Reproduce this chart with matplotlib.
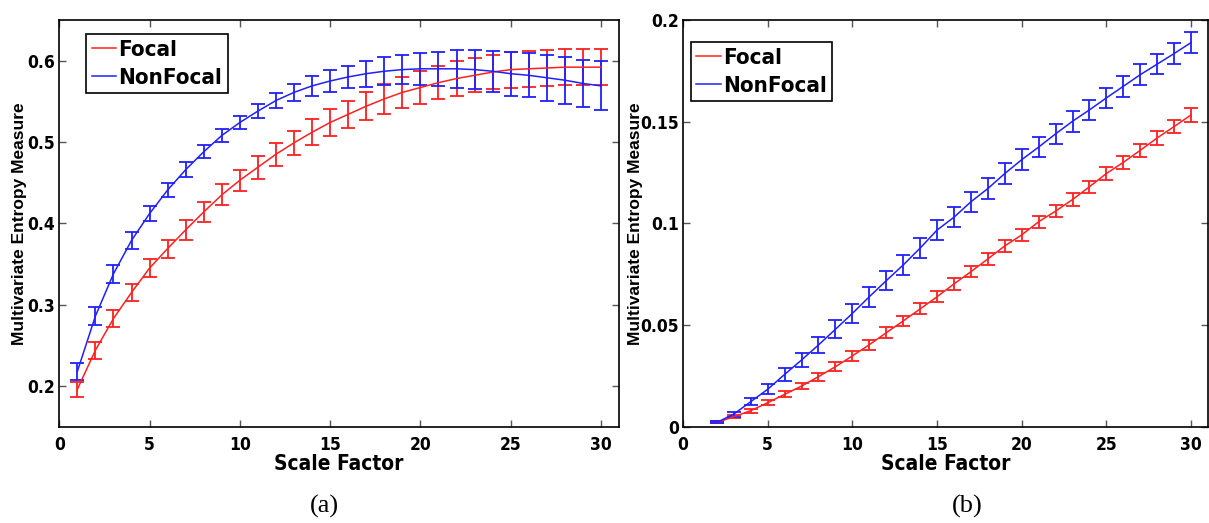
import matplotlib
matplotlib.use("Agg")
import matplotlib.pyplot as plt
from matplotlib import font_manager

scale = list(range(1, 31))
scale_b = list(range(2, 31))

focal_a = [0.196, 0.244, 0.283, 0.315, 0.345, 0.369, 0.392, 0.414, 0.435, 0.453,
           0.469, 0.485, 0.499, 0.512, 0.524, 0.534, 0.544, 0.553, 0.561, 0.567,
           0.573, 0.578, 0.582, 0.586, 0.589, 0.590, 0.591, 0.592, 0.592, 0.592]
focal_a_err = [0.009, 0.0105, 0.011, 0.011, 0.011, 0.011, 0.012, 0.012, 0.013, 0.013,
               0.014, 0.014, 0.015, 0.016, 0.016, 0.017, 0.017, 0.018, 0.019, 0.020,
               0.020, 0.021, 0.021, 0.021, 0.022, 0.022, 0.022, 0.022, 0.022, 0.022]
nonfocal_a = [0.218, 0.286, 0.338, 0.379, 0.412, 0.441, 0.466, 0.488, 0.508, 0.524,
              0.538, 0.551, 0.561, 0.569, 0.575, 0.580, 0.584, 0.587, 0.589, 0.590,
              0.590, 0.590, 0.589, 0.587, 0.584, 0.582, 0.579, 0.576, 0.572, 0.569]
nonfocal_a_err = [0.0105, 0.011, 0.011, 0.010, 0.009, 0.009, 0.009, 0.008, 0.008, 0.008,
                  0.009, 0.009, 0.010, 0.012, 0.013, 0.014, 0.016, 0.017, 0.018, 0.020,
                  0.021, 0.023, 0.024, 0.025, 0.027, 0.027, 0.028, 0.029, 0.029, 0.030]

focal_b = [0.0021, 0.0049, 0.0079, 0.0118, 0.0159, 0.0200, 0.0246, 0.0295, 0.0348, 0.0403,
           0.0462, 0.0520, 0.0579, 0.0639, 0.0702, 0.0762, 0.0825, 0.0889, 0.0943, 0.1008,
           0.1060, 0.1117, 0.1180, 0.1245, 0.1300, 0.1359, 0.1420, 0.1476, 0.1533]
focal_b_err = [0.0005, 0.0008, 0.0010, 0.0013, 0.0015, 0.0017, 0.0019, 0.0021, 0.0024, 0.0025,
               0.0026, 0.0026, 0.0027, 0.0027, 0.0028, 0.0028, 0.0028, 0.0028, 0.0028, 0.0029,
               0.0029, 0.0030, 0.0030, 0.0031, 0.0032, 0.0033, 0.0034, 0.0034, 0.0035]
nonfocal_b = [0.0021, 0.0062, 0.0123, 0.0184, 0.0257, 0.0328, 0.0402, 0.0479, 0.0557, 0.0639,
              0.0718, 0.0795, 0.0878, 0.0967, 0.1030, 0.1106, 0.1171, 0.1245, 0.1313, 0.1375,
              0.1440, 0.1502, 0.1558, 0.1617, 0.1674, 0.1731, 0.1783, 0.1835, 0.1889]
nonfocal_b_err = [0.0005, 0.0012, 0.0018, 0.0025, 0.0030, 0.0035, 0.0040, 0.0045, 0.0048, 0.0048,
                  0.0048, 0.0049, 0.0049, 0.0050, 0.0050, 0.0050, 0.0050, 0.0050, 0.0051, 0.0051,
                  0.0051, 0.0051, 0.0051, 0.0051, 0.0051, 0.0051, 0.0051, 0.0051, 0.0051]

xticks = [0, 5, 10, 15, 20, 25, 30]
yticks_a = [0.2, 0.3, 0.4, 0.5, 0.6]
yticks_b = [0, 0.05, 0.1, 0.15, 0.2]
ytick_labels_b = ["0", "0.05", "0.1", "0.15", "0.2"]

names = {f.name for f in font_manager.fontManager.ttflist}
if "Liberation Sans Narrow" in names:
    NARROW = dict(family=["Liberation Sans Narrow", "DejaVu Sans"], weight="bold", stretch="normal")
else:
    NARROW = dict(family=["DejaVu Sans"], weight="bold", stretch="condensed")
wide = ["Liberation Sans", "DejaVu Sans"]
serif = ["Liberation Serif", "DejaVu Serif"]


def narrow_kw(size):
    return dict(fontfamily=NARROW["family"], fontweight="bold", fontstretch=NARROW["stretch"], fontsize=size)


fig = plt.figure(figsize=(12.09, 5.23), dpi=100)
ax1 = fig.add_axes([59.3 / 1209, 1 - 426.7 / 523, (619 - 59.3) / 1209, (426.7 - 20) / 523])
ax2 = fig.add_axes([683 / 1209, 1 - 426.7 / 523, (1208 - 683) / 1209, (426.7 - 20) / 523])

ekw = dict(capsize=5, elinewidth=1.3, capthick=1.3, linewidth=1.1)


def style(ax, ylab_x):
    ax.set_xlim(0, 31)
    ax.set_xticks(xticks)
    ax.tick_params(direction="in", top=True, right=True, length=5, width=1, color="#555555")
    ax.tick_params(axis="x", pad=7)
    ax.tick_params(axis="y", pad=3)
    for lab in ax.get_xticklabels() + ax.get_yticklabels():
        lab.set_fontfamily(NARROW["family"])
        lab.set_fontweight("bold")
        lab.set_fontstretch(NARROW["stretch"])
        lab.set_fontsize(12.5)
    for s in ax.spines.values():
        s.set_linewidth(1.2)
    ax.set_xlabel("Scale Factor", labelpad=0, **narrow_kw(15))
    ax.set_ylabel("Multivariate Entropy Measure", fontfamily=wide, fontweight="bold", fontsize=12.5)
    ax.yaxis.set_label_coords(ylab_x, 0.5)


# Panel (a)
ax1.errorbar(scale, focal_a, yerr=focal_a_err, color="#ff2020", label="Focal", **ekw)
ax1.errorbar(scale, nonfocal_a, yerr=nonfocal_a_err, color="#2020ff", label="NonFocal", **ekw)
ax1.set_ylim(0.15, 0.65)
ax1.set_yticks(yticks_a)
ax1.set_yticklabels([str(v) for v in yticks_a])
style(ax1, (27 - 59.3) / 559.7)

# Panel (b)
ax2.errorbar(scale_b, focal_b, yerr=focal_b_err, color="#ff2020", label="Focal", **ekw)
ax2.errorbar(scale_b, nonfocal_b, yerr=nonfocal_b_err, color="#2020ff", label="NonFocal", **ekw)
ax2.set_ylim(0, 0.2)
ax2.set_yticks(yticks_b)
ax2.set_yticklabels(ytick_labels_b)
style(ax2, (643 - 683) / 525)

leg_prop = dict(size=16, family=NARROW["family"], weight="bold", stretch=NARROW["stretch"])
for ax, anchor in ((ax1, (0.048, 0.965)), (ax2, (0.015, 0.945))):
    handles, labels = ax.get_legend_handles_labels()
    handles = [h[0] for h in handles]
    leg = ax.legend(handles, labels, loc="upper left", bbox_to_anchor=anchor,
                    prop=leg_prop,
                    handlelength=1.1, handletextpad=0.1, borderpad=0.25, labelspacing=0.35,
                    fancybox=False, framealpha=1, edgecolor="black", borderaxespad=0)
    leg.get_frame().set_linewidth(1.2)

fig.text(324 / 1209, 1 - 506 / 523, "(a)", ha="center", va="center", fontfamily=serif, fontsize=19)
fig.text(967 / 1209, 1 - 506 / 523, "(b)", ha="center", va="center", fontfamily=serif, fontsize=19)

fig.savefig("out.png", dpi=100)
